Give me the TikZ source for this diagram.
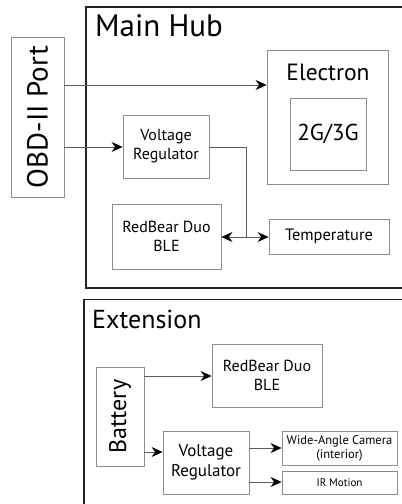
\documentclass[tikz,border=0pt]{standalone}
\usepackage{fontspec}
\setmainfont{PT Sans}
\usetikzlibrary{arrows.meta,positioning}
\definecolor{frameline}{HTML}{222222}
\definecolor{boxline}{HTML}{8C8C8C}
\definecolor{wire}{HTML}{5A5A5A}
\tikzset{
  frame/.style={draw=frameline, line width=1.4pt},
  box/.style={draw=boxline, line width=0.9pt, align=center, inner sep=0pt},
  title/.style={anchor=base west, inner sep=0pt},
  arr/.style={-{Stealth[length=11pt, width=10pt, color=black]}, line width=0.7pt, draw=wire}
}

\begin{document}
\begin{tikzpicture}[x=1pt,y=-1pt]
    \useasboundingbox (0,0) rectangle (402,504);
    % main hub
    \draw[frame] (402,7) -- (86,7) -- (86,288) -- (402,288);
    \node[title, font=\fontsize{31}{33}\selectfont] (hubtitle) at (95,36) {Main Hub};
    \node[box, minimum width=53, minimum height=160] (obd) at (37.5,117) {};
    \node[rotate=90, font=\fontsize{29}{31}\selectfont] (obdlbl) at (obd.center) {OBD-II Port};
    \node[box, minimum width=121, minimum height=134] (electron) at (327.5,117) {};
    \node[anchor=base, inner sep=0pt, font=\fontsize{23.5}{26}\selectfont] (electronlbl) at (328,80) {Electron};
    \node[box, minimum width=76, minimum height=72, font=\fontsize{23}{26}\selectfont] (cell) at (328,134) {2G/3G};
    \node[box, minimum width=86, minimum height=63, font=\fontsize{16}{19}\selectfont] (vreg) at (166,146.5) {Voltage\\Regulator};
    \node[box, minimum width=109, minimum height=65, font=\fontsize{16}{19}\selectfont] (duo) at (166.5,236.5) {RedBear Duo\\BLE};
    \node[box, minimum width=120, minimum height=35, font=\fontsize{16.4}{19}\selectfont] (temp) at (329,236.5) {Temperature};
    \coordinate (split) at (246,237);
    \draw[arr] (obd.east |- 0,85) -- (electron.west |- 0,85);
    \draw[arr] (obd.east |- 0,147) -- (vreg.west |- 0,147);
    \draw[draw=wire, line width=0.7pt] (vreg.east |- 0,147) -| (split);
    \draw[arr] (split) -- (duo.east |- split);
    \draw[arr] (split) -- (temp.west |- split);
    % extension
    \draw[frame] (402,299.5) -- (84,299.5) -- (84,504);
    \node[title, font=\fontsize{26}{28}\selectfont] (exttitle) at (92,328) {Extension};
    \node[box, minimum width=48, minimum height=99] (battery) at (120,416.5) {};
    \node[rotate=90, font=\fontsize{24}{26}\selectfont] (batterylbl) at (battery.center) {Battery};
    \node[box, minimum width=110, minimum height=63, font=\fontsize{16}{19}\selectfont] (duoext) at (267,375.5) {RedBear Duo\\BLE};
    \node[box, minimum width=86, minimum height=63, font=\fontsize{17}{20}\selectfont] (vregext) at (206,462.5) {Voltage\\Regulator};
    \node[box, minimum width=115, minimum height=34, font=\fontsize{12.5}{14}\selectfont] (camera) at (339.5,448) {Wide-Angle Camera\\(interior)};
    \node[box, minimum width=115, minimum height=23, font=\fontsize{11}{13}\selectfont] (irmotion) at (339.5,482.5) {IR Motion};
    \draw[arr] (battery.east |- 0,376) -- (duoext.west |- 0,376);
    \draw[arr] (battery.east |- 0,452) -- (vregext.west |- 0,452);
    \draw[arr] (vregext.east |- 0,448) -- (camera.west |- 0,448);
    \draw[arr] (vregext.east |- 0,482) -- (irmotion.west |- 0,482);
\end{tikzpicture}
\end{document}
